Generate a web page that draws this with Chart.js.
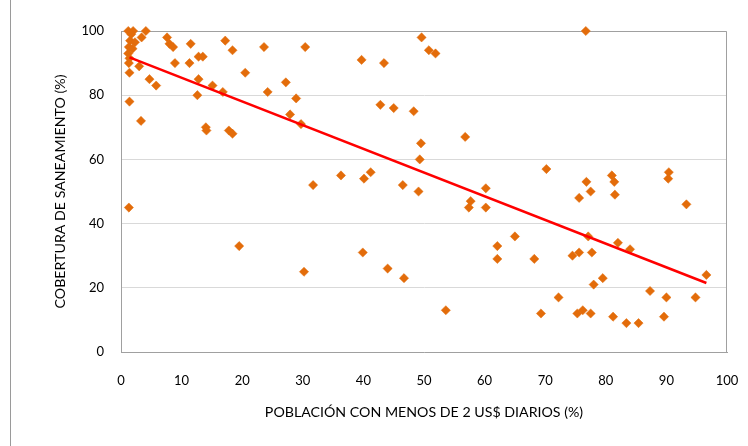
<!DOCTYPE html>
<html>
<head>
<meta charset="utf-8">
<script src="https://cdn.jsdelivr.net/npm/chart.js@4"></script>
<style>
  body { margin: 0; background: #fff; }
  #wrap { position: relative; width: 748px; height: 446px; }
  #frame { position: absolute; left: 10px; top: 0; width: 1px; height: 446px; background: #9a9a9a; }
</style>
</head>
<body>
<div id="wrap">
  <canvas id="chart" width="748" height="446"></canvas>
  <div id="frame"></div>
</div>
<script>
// población con menos de 2 US$ diarios (%)
const pobreza = [
  1.2, 2.0, 4.1, 1.7, 3.4, 1.5, 2.3, 1.3, 1.9, 1.2, 1.4, 1.3, 3.0, 1.4, 4.7, 5.8, 1.4, 3.3, 1.3,
  7.6, 8.0, 8.6, 11.5, 17.2, 18.4, 23.6, 8.9, 11.3, 12.8, 13.5, 20.5, 12.8, 15.1, 16.8, 12.6, 24.2,
  14.0, 14.1, 17.8, 18.4, 19.5,
  30.4, 39.7, 43.4, 27.2, 28.9, 42.8, 45.0, 27.9, 29.7, 31.7, 36.3, 40.1, 41.2, 46.5,
  30.2, 39.9, 44.0, 46.7, 49.6, 50.8, 51.9, 48.3, 56.8, 49.5, 49.3, 70.2, 60.2, 49.1,
  57.7, 57.4, 60.2, 65.0, 62.1, 62.1, 68.2, 53.6, 72.2, 69.3,
  76.7, 76.8, 81.0, 81.4, 90.4, 90.3, 77.5, 75.6, 81.5, 93.3, 77.1, 82.0, 84.0, 74.5, 75.6,
  77.7, 79.5, 78.0, 96.6, 87.3, 90.0, 94.8, 75.3, 76.2, 77.5, 81.2, 83.4, 85.4, 89.6
];
// cobertura de saneamiento (%)
const saneamiento = [
  100, 100, 100, 99, 98, 97, 96.5, 95, 94.5, 93, 91.5, 90, 89, 87, 85, 83, 78, 72, 45,
  98, 96, 95, 96, 97, 94, 95, 90, 90, 92, 92, 87, 85, 83, 81, 80, 81,
  70, 69, 69, 68, 33,
  95, 91, 90, 84, 79, 77, 76, 74, 71, 52, 55, 54, 56, 52,
  25, 31, 26, 23, 98, 94, 93, 75, 67, 65, 60, 57, 51, 50,
  47, 45, 45, 36, 33, 29, 29, 13, 17, 12,
  100, 53, 55, 53, 56, 54, 50, 48, 49, 46, 36, 34, 32, 30, 31,
  31, 23, 21, 24, 19, 17, 17, 12, 13, 12, 11, 9, 9, 11
];
// línea de tendencia (extremos)
const tendenciaX = [1.4, 96.6];
const tendenciaY = [91.8, 21.5];

const xTicks = [0, 10, 20, 30, 40, 50, 60, 70, 80, 90, 100];
const yTicks = [0, 20, 40, 60, 80, 100];

const fontFam = 'Lato, "Open Sans", sans-serif';

const plotBorder = {
  id: 'plotBorder',
  beforeDatasetsDraw(chart) {
    const a = chart.chartArea;
    const ctx = chart.ctx;
    ctx.save();
    ctx.strokeStyle = '#a0a0a0';
    ctx.lineWidth = 1;
    ctx.beginPath();
    ctx.moveTo(a.left, a.top + 0.5);
    ctx.lineTo(a.right - 0.5, a.top + 0.5);
    ctx.lineTo(a.right - 0.5, a.bottom);
    ctx.stroke();
    ctx.restore();
  }
};

const ctx = document.getElementById('chart').getContext('2d');
new Chart(ctx, {
  type: 'scatter',
  data: {
    datasets: [
      {
        type: 'line',
        data: tendenciaX.map((x, i) => ({ x: x, y: tendenciaY[i] })),
        borderColor: '#ff0000',
        borderWidth: 2.5,
        pointRadius: 0,
        fill: false,
        order: 0
      },
      {
        data: pobreza.map((x, i) => ({ x: x, y: saneamiento[i] })),
        pointStyle: 'rectRot',
        pointRadius: 4.6,
        backgroundColor: '#e36c0a',
        borderColor: '#e36c0a',
        borderWidth: 0.5,
        clip: false,
        order: 1
      }
    ]
  },
  options: {
    responsive: false,
    animation: false,
    layout: { padding: { left: 48, right: 21, top: 31, bottom: 21 } },
    plugins: { legend: { display: false }, tooltip: { enabled: false } },
    scales: {
      x: {
        type: 'linear',
        min: 0, max: 100,
        afterBuildTicks: s => { s.ticks = xTicks.map(v => ({ value: v })); },
        afterFit: s => { s.height = 73; s.paddingLeft = 0; s.paddingRight = 0; },
        grid: { display: false, drawTicks: false },
        border: { color: '#a0a0a0' },
        ticks: { padding: 21, color: '#000', font: { family: fontFam, size: 13 } },
        title: {
          display: true,
          text: 'POBLACIÓN CON MENOS DE 2 US$ DIARIOS (%)',
          color: '#000',
          font: { family: fontFam, size: 14.2 }
        }
      },
      y: {
        min: 0, max: 100,
        afterBuildTicks: s => { s.ticks = yTicks.map(v => ({ value: v })); },
        afterFit: s => { s.width = 73; s.paddingTop = 0; s.paddingBottom = 0; },
        grid: { color: '#d9d9d9', drawTicks: false },
        border: { color: '#a0a0a0' },
        ticks: { padding: 17, color: '#000', font: { family: fontFam, size: 13 } },
        title: {
          display: true,
          text: 'COBERTURA DE SANEAMIENTO (%)',
          color: '#000',
          font: { family: fontFam, size: 14.2 }
        }
      }
    }
  },
  plugins: [plotBorder]
});
</script>
</body>
</html>
